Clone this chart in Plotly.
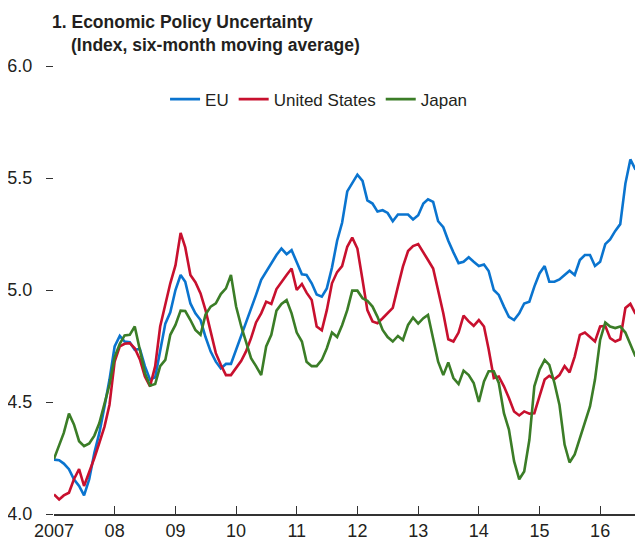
import pandas as pd
import plotly.graph_objects as go

months = pd.date_range("2007-01-01", periods=116, freq="MS")

eu = [4.243, 4.24, 4.225, 4.20, 4.155, 4.125, 4.083, 4.155, 4.273, 4.362,
      4.48, 4.60, 4.748, 4.795, 4.77, 4.767, 4.733, 4.737, 4.66, 4.60,
      4.61, 4.72, 4.85, 4.90, 5.00, 5.067, 5.037, 4.94, 4.896, 4.866,
      4.79, 4.725, 4.68, 4.65, 4.67, 4.67, 4.733, 4.79, 4.85, 4.91,
      4.978, 5.045, 5.08, 5.12, 5.156, 5.185, 5.16, 5.178, 5.126, 5.07,
      5.067, 5.03, 4.98, 4.97, 5.007, 5.10, 5.22, 5.30, 5.44, 5.48,
      5.515, 5.487, 5.40, 5.386, 5.35, 5.356, 5.344, 5.307, 5.337, 5.337,
      5.337, 5.315, 5.334, 5.386, 5.405, 5.393, 5.307, 5.28, 5.22, 5.168,
      5.12, 5.126, 5.146, 5.126, 5.107, 5.114, 5.085, 5.0, 4.978, 4.926,
      4.88, 4.866, 4.896, 4.94, 4.948, 5.015, 5.074, 5.107, 5.037, 5.037,
      5.047, 5.067, 5.086, 5.067, 5.134, 5.156, 5.156, 5.107, 5.126, 5.205,
      5.226, 5.264, 5.294, 5.475, 5.583, 5.537]

us = [4.087, 4.065, 4.083, 4.095, 4.155, 4.20, 4.125, 4.185, 4.25, 4.318,
      4.39, 4.488, 4.68, 4.748, 4.76, 4.763, 4.74, 4.69, 4.614, 4.57,
      4.66, 4.837, 4.94, 5.03, 5.11, 5.255, 5.19, 5.067, 5.035, 4.985,
      4.91, 4.807, 4.718, 4.666, 4.62, 4.62, 4.65, 4.684, 4.725, 4.785,
      4.855, 4.896, 4.948, 4.938, 5.004, 5.037, 5.067, 5.096, 5.0, 5.027,
      4.988, 4.955, 4.837, 4.82, 4.91, 5.03, 5.08, 5.107, 5.193, 5.234,
      5.185, 5.045, 4.91, 4.86, 4.852, 4.874, 4.896, 4.92, 5.015, 5.104,
      5.174, 5.196, 5.205, 5.17, 5.134, 5.096, 5.0, 4.896, 4.78, 4.77,
      4.81, 4.886, 4.86, 4.84, 4.866, 4.837, 4.735, 4.607, 4.614, 4.57,
      4.518, 4.458, 4.44, 4.458, 4.448, 4.45, 4.525, 4.60, 4.617, 4.602,
      4.62, 4.66, 4.632, 4.703, 4.80, 4.81, 4.79, 4.77, 4.837, 4.84,
      4.785, 4.77, 4.78, 4.92, 4.938, 4.893]

japan = [4.246, 4.31, 4.362, 4.448, 4.40, 4.325, 4.303, 4.315, 4.35, 4.406,
         4.496, 4.577, 4.70, 4.76, 4.797, 4.80, 4.837, 4.733, 4.63, 4.573,
         4.58, 4.66, 4.688, 4.80, 4.844, 4.908, 4.906, 4.866, 4.822, 4.80,
         4.89, 4.926, 4.94, 4.982, 5.007, 5.067, 4.926, 4.837, 4.77, 4.696,
         4.66, 4.62, 4.748, 4.80, 4.908, 4.938, 4.955, 4.896, 4.81, 4.77,
         4.68, 4.66, 4.66, 4.688, 4.74, 4.81, 4.79, 4.843, 4.91, 4.997,
         4.997, 4.963, 4.952, 4.926, 4.88, 4.822, 4.79, 4.77, 4.795, 4.777,
         4.844, 4.877, 4.85, 4.874, 4.889, 4.79, 4.68, 4.62, 4.677, 4.607,
         4.58, 4.64, 4.62, 4.585, 4.50, 4.592, 4.637, 4.637, 4.585, 4.45,
         4.377, 4.236, 4.155, 4.19, 4.33, 4.57, 4.644, 4.688, 4.666, 4.585,
         4.488, 4.31, 4.23, 4.266, 4.34, 4.414, 4.48, 4.60, 4.777, 4.855,
         4.837, 4.83, 4.837, 4.81, 4.755, 4.703]

year_ticks = pd.date_range("2007-01-01", periods=10, freq="YS")
year_labels = ["2007", "08", "09", "10", "11", "12", "13", "14", "15", "16"]
y_ticks = [4.0, 4.5, 5.0, 5.5, 6.0]
y_labels = ["4.0", "4.5", "5.0", "5.5", "6.0"]

FONT = "Liberation Sans, Arial, sans-serif"
TXT = "#231f20"

series = [("EU", eu, "#0a74cf"), ("United States", us, "#c8102e"), ("Japan", japan, "#3b7d27")]

fig = go.Figure()
for name, vals, col in series:
    fig.add_trace(go.Scatter(x=months, y=vals, mode="lines", name=name,
                             line=dict(color=col, width=2.6)))
# carrier for the right-hand tick axis
fig.add_trace(go.Scatter(x=[months[0]], y=[None], yaxis="y2", showlegend=False,
                         hoverinfo="skip", mode="lines"))

# The page body has an 8px margin, so the figure is sized to the visible area.
fig.update_layout(
    width=635, height=534,
    margin=dict(l=46, r=0, t=58, b=28),
    paper_bgcolor="white", plot_bgcolor="white",
    font=dict(family=FONT, color=TXT, size=18),
    showlegend=True,
    legend=dict(orientation="h", x=0.45, y=0.925, xanchor="center", yanchor="middle",
                font=dict(size=17, family=FONT, color=TXT), itemwidth=30,
                traceorder="normal", bgcolor="rgba(0,0,0,0)"),
    xaxis=dict(range=[pd.Timestamp("2007-01-01"), pd.Timestamp("2016-09-15")],
               tickvals=year_ticks, ticktext=year_labels,
               ticks="inside", ticklen=8, tickwidth=1.2, tickcolor="#333",
               showline=True, linecolor="#333", linewidth=1.5,
               showgrid=False, zeroline=False,
               tickfont=dict(size=18, family=FONT, color=TXT)),
    yaxis=dict(range=[4.0, 6.0], tickvals=y_ticks, ticktext=y_labels,
               ticks="outside", ticklen=7, tickwidth=1.2, tickcolor="#333",
               showline=False, showgrid=False, zeroline=False,
               ticklabelstandoff=10,
               tickfont=dict(size=18, family=FONT, color=TXT)),
    yaxis2=dict(range=[4.0, 6.0], overlaying="y", side="right", tickvals=y_ticks,
                showticklabels=False, ticks="inside", ticklen=8, tickwidth=1.2,
                tickcolor="#333", showline=False, showgrid=False, zeroline=False),
    annotations=[
        dict(text="<b>1. Economic Policy Uncertainty</b>", xref="paper", yref="paper",
             x=(50 - 54) / 589, y=(514 - 22) / 448, xanchor="left", yanchor="middle",
             showarrow=False, font=dict(size=17.5, family=FONT, color=TXT)),
        dict(text="<b>(Index, six-month moving average)</b>", xref="paper", yref="paper",
             x=(69 - 54) / 589, y=(514 - 45) / 448, xanchor="left", yanchor="middle",
             showarrow=False, font=dict(size=17.5, family=FONT, color=TXT)),
    ],
)

fig.write_html("out.html")
